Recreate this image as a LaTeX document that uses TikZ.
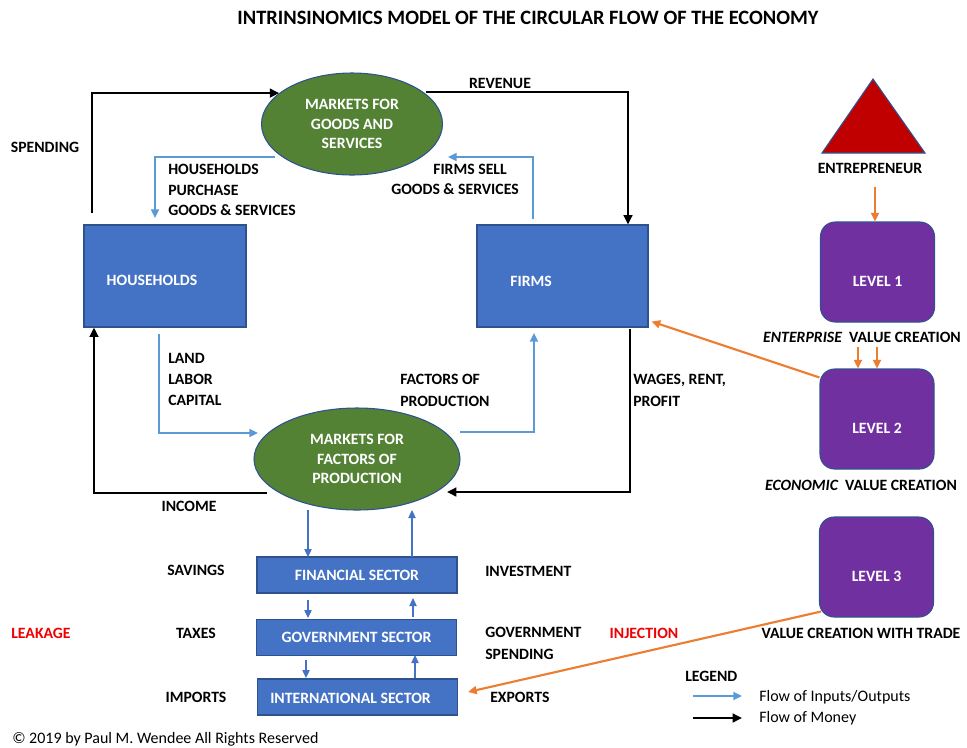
\documentclass[tikz,border=0pt]{standalone}
\usepackage{fontspec}
\setmainfont{Carlito}
\usetikzlibrary{shapes.geometric,arrows.meta,calc}
\definecolor{boxblue}{HTML}{4472C4}
\definecolor{edgeblue}{HTML}{2F528F}
\definecolor{mktgreen}{HTML}{548235}
\definecolor{flowblue}{HTML}{5B9BD5}
\definecolor{orng}{HTML}{ED7D31}
\definecolor{lvlpurple}{HTML}{7030A0}
\definecolor{trired}{HTML}{C00000}
\definecolor{redtxt}{HTML}{F00000}
\newcommand\lblfont{\fontsize{11.8}{14.8}\selectfont\bfseries}
\newcommand\regfont{\fontsize{12}{14.8}\selectfont}
\begin{document}
\begin{tikzpicture}[x=0.75pt,y=-0.75pt,
  txt/.style={font=\lblfont, inner sep=0pt},
  wtxt/.style={txt, text=white},
  redlbl/.style={txt, text=redtxt},
  market/.style={ellipse, draw=edgeblue, line width=0.8pt, fill=mktgreen, text=white,
     font=\lblfont, align=center, inner sep=0pt, minimum height=76.5pt},
  agent/.style={rectangle, draw=edgeblue, line width=0.8pt, fill=boxblue, inner sep=0pt,
     minimum width=121.5pt, minimum height=76.5pt},
  sectorbox/.style={rectangle, draw=edgeblue, line width=0.8pt, fill=boxblue, text=white,
     font=\lblfont, inner sep=0pt, minimum width=150pt, minimum height=27pt},
  levelbox/.style={rectangle, rounded corners=11pt, draw=edgeblue, line width=0.8pt,
     fill=lvlpurple, inner sep=0pt, minimum width=85.5pt, minimum height=75pt},
  money/.style={draw=black, line width=1.9pt, -{Triangle[length=7pt,width=6.5pt]}},
  flow/.style={draw=flowblue, line width=1.5pt, -{Triangle[length=6.5pt,width=6pt]}},
  secflow/.style={draw=boxblue, line width=0.9pt, -{Triangle[length=6pt,width=5.5pt]}},
  orflow/.style={draw=orng, line width=1.6pt, -{Triangle[length=6.5pt,width=6pt]}},
]
\useasboundingbox (0,0) rectangle (967,747);

% title
\node[txt, font=\fontsize{15.3}{17}\selectfont\bfseries] (title) at (528,18)
  {INTRINSINOMICS MODEL OF THE CIRCULAR FLOW OF THE ECONOMY};

% markets
\node[market, minimum width=135.75pt] (goods) at (352,124) {MARKETS FOR\\GOODS AND\\SERVICES};
\node[market, minimum width=154.5pt] (factors) at (357,459) {MARKETS FOR\\FACTORS OF\\PRODUCTION};

% households & firms
\node[agent, label={[wtxt, xshift=-9.75pt, yshift=-3pt]center:HOUSEHOLDS}] (hh) at (165,276) {};
\node[agent, minimum width=128.25pt, label={[wtxt, xshift=-23.5pt, yshift=-3.75pt]center:FIRMS}] (firms) at (562.5,276) {};

% sectors
\node[sectorbox] (fin) at (357,575) {FINANCIAL SECTOR};
\node[sectorbox] (gov) at (356.5,637.5) {GOVERNMENT SECTOR};
\node[sectorbox, label={[wtxt, xshift=-5.25pt, yshift=-1pt]center:INTERNATIONAL SECTOR}] (intl) at (357.5,697) {};

% entrepreneur triangle
\coordinate (tA) at (873,79);
\coordinate (tB) at (822,153);
\coordinate (tC) at (925,153);
\draw[draw=edgeblue, line width=0.8pt, fill=trired] (tA) -- (tB) -- (tC) -- cycle;
\node[txt] (entre) at (870,168) {ENTREPRENEUR};

% levels
\node[levelbox, label={[wtxt, yshift=-7pt]center:LEVEL 1}] (lv1) at (877.5,272) {};
\node[levelbox, label={[wtxt, yshift=-7pt]center:LEVEL 2}] (lv2) at (877,419) {};
\node[levelbox, label={[wtxt, yshift=-7pt]center:LEVEL 3}] (lv3) at (876.5,567) {};
\node[txt] (ent) at (862,337) {{\itshape ENTERPRISE}\ \ VALUE CREATION};
\node[txt] (eco) at (861,485) {{\itshape ECONOMIC}\ \ VALUE CREATION};
\node[txt] (trade) at (861,633) {VALUE CREATION WITH TRADE};

% flow labels
\node[txt] (spend) at (45,147) {SPENDING};
\node[txt, anchor=west, align=left, font=\fontsize{11.8}{15.5}\selectfont\bfseries] (hpur) at (168,190)
  {HOUSEHOLDS\\PURCHASE\\GOODS \& SERVICES};
\node[txt] (rev) at (500,83) {REVENUE};
\node[txt] (fsell) at (470,169) {FIRMS SELL};
\node[txt] (fsell2) at (455,189) {GOODS \& SERVICES};
\node[txt, anchor=west, align=left, font=\fontsize{11.8}{16}\selectfont\bfseries] (llc) at (168,379.5)
  {LAND\\LABOR\\CAPITAL};
\node[txt, anchor=west, align=left, font=\fontsize{11.8}{16}\selectfont\bfseries] (fop) at (400,390.5)
  {FACTORS OF\\PRODUCTION};
\node[txt, anchor=west, align=left, font=\fontsize{11.8}{16}\selectfont\bfseries] (wrp) at (633,390.5)
  {WAGES, RENT,\\PROFIT};
\node[txt] (inc) at (189,506) {INCOME};

% sector labels
\node[txt] (sav) at (196,570) {SAVINGS};
\node[txt] (tax) at (196,633) {TAXES};
\node[txt] (imp) at (196,697) {IMPORTS};
\node[redlbl] (leak) at (41,633) {LEAKAGE};
\node[txt, anchor=west] (inv) at (485,571) {INVESTMENT};
\node[txt, anchor=west, align=left, font=\fontsize{11.8}{16}\selectfont\bfseries] (gsp) at (485,643.5)
  {GOVERNMENT\\SPENDING};
\node[txt, anchor=west] (exp) at (490,697) {EXPORTS};
\node[redlbl] (inj) at (644,633) {INJECTION};

% legend
\node[txt, anchor=west] (leg) at (685,676) {LEGEND};
\coordinate (lgA1) at (693,696);
\coordinate (lgA2) at (742,696);
\coordinate (lgB1) at (693,718);
\coordinate (lgB2) at (742,718);
\draw[flow] (lgA1) -- (lgA2);
\draw[money] (lgB1) -- (lgB2);
\node[txt, font=\regfont, anchor=west] (lgt1) at (759,697) {Flow of Inputs/Outputs};
\node[txt, font=\regfont, anchor=west] (lgt2) at (759,718) {Flow of Money};

% copyright
\node[txt, font=\regfont, anchor=west] (copy) at (12,739) {© 2019 by Paul M. Wendee All Rights Reserved};

% ---- money connectors
\coordinate (sp0) at (92,213);
\draw[money] (sp0) |- (goods.157);
\coordinate (rv1) at (628,92);
\draw[money] (rv1 -| goods.22) -- (rv1) -- (rv1 |- firms.north);
\coordinate (wg0) at (630,329);
\coordinate (wg1) at (630,492);
\coordinate (wg2) at (447,492);
\draw[money] (wg0) -- (wg1) -- (wg2);
\coordinate (in0) at (267,493);
\coordinate (in1) at (94,493);
\draw[money] (in0) -- (in1) -- (in1 |- hh.south);

% ---- input/output flows
\coordinate (hp0) at (275,157);
\coordinate (hp1) at (155,157);
\coordinate (hp2) at (155,218);
\draw[flow] (hp0) -- (hp1) -- (hp2);
\coordinate (fs0) at (533,219);
\coordinate (fs1) at (533,157);
\coordinate (fs2) at (448,157);
\draw[flow] (fs0) -- (fs1) -- (fs2);
\coordinate (ll0) at (159,334);
\coordinate (ll1) at (159,433);
\coordinate (ll2) at (258,433);
\draw[flow] (ll0) -- (ll1) -- (ll2);
\coordinate (fp0) at (460,432);
\coordinate (fp1) at (534,432);
\coordinate (fp2) at (534,333);
\draw[flow] (fp0) -- (fp1) -- (fp2);

% ---- sector flows
\draw[secflow] (factors.south -| 308,0) ++(0,-1) -- (308,557);
\draw[secflow] (412,557) -- (412,510);
\draw[secflow] (308,600) -- (308,618);
\draw[secflow] (413,617) -- (413,598);
\draw[secflow] (306,660) -- (306,678);
\draw[secflow] (415,678) -- (415,655);

% ---- orange
\coordinate (or0) at (875,187);
\draw[orflow] (or0) -- (or0 |- lv1.north);
\coordinate (or1) at (858,347);
\coordinate (or2) at (877,347);
\draw[orflow] (or1) -- (or1 |- lv2.north);
\draw[orflow] (or2) -- (or2 |- lv2.north);
\draw[orflow] ($(lv2.north west)+(0,9)$) -- ($(firms.south east)+(3,-6)$);
\draw[orflow] ($(lv3.south west)+(2,-6)$) -- ($(intl.east)+(10,-5)$);
\end{tikzpicture}
\end{document}
